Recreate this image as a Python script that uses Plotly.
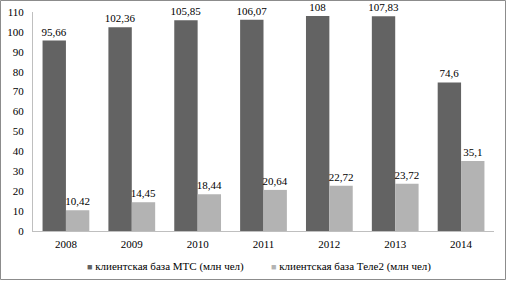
import plotly.graph_objects as go

years = ["2008", "2009", "2010", "2011", "2012", "2013", "2014"]
mts = [95.66, 102.36, 105.85, 106.07, 108, 107.83, 74.6]
tele2 = [10.42, 14.45, 18.44, 20.64, 22.72, 23.72, 35.1]
mts_labels = ["95,66", "102,36", "105,85", "106,07", "108", "107,83", "74,6"]
tele2_labels = ["10,42", "14,45", "18,44", "20,64", "22,72", "23,72", "35,1"]
y_ticks = list(range(0, 111, 10))
names = ["клиентская база МТС (млн чел)", "клиентская база Теле2 (млн чел)"]
colors = ["#636363", "#b3b3b3"]

W, H = 507, 281
L, R, T, B = 33, 13, 12, 50
pw, ph = W - L - R, H - T - B

FAM = "Liberation Serif"
font = dict(family=FAM, size=11, color="#000000")

fig = go.Figure()
for vals, labels, name, col in [(mts, mts_labels, names[0], colors[0]),
                                (tele2, tele2_labels, names[1], colors[1])]:
    fig.add_trace(go.Bar(x=years, y=vals, name=name, marker_color=col,
                         marker_line_width=0,
                         text=labels, textposition="outside", textfont=font,
                         constraintext="none", cliponaxis=False, hoverinfo="skip"))

def px_x(p):
    return (p - L) / pw

def px_y(p):
    return (H - B - p) / ph

legend_ann = []
for name, col, xp in [(names[0], colors[0], 85), (names[1], colors[1], 269)]:
    legend_ann.append(dict(
        xref="paper", yref="paper", x=px_x(xp), y=px_y(266),
        xanchor="left", yanchor="middle", showarrow=False,
        text=f"<span style='color:{col};font-size:9px'>■</span> {name}",
        font=dict(family=FAM, size=11, color="#000")))

fig.update_layout(
    width=W, height=H,
    margin=dict(l=L, r=R, t=T, b=B, autoexpand=False),
    paper_bgcolor="white", plot_bgcolor="white",
    font=font,
    barmode="group", bargap=0.29, bargroupgap=0,
    showlegend=False,
    xaxis=dict(showline=True, linecolor="#bfbfbf", linewidth=1, ticks="",
               tickfont=dict(family=FAM, size=11), automargin=False,
               ticklabelstandoff=3),
    yaxis=dict(range=[0, 110], tickvals=y_ticks, showgrid=False, showline=True,
               linecolor="#bfbfbf", linewidth=1, ticks="", zeroline=False,
               tickfont=dict(family=FAM, size=11), automargin=False,
               ticklabelstandoff=6),
    annotations=legend_ann,
    shapes=[dict(type="rect", xref="paper", yref="paper",
                 x0=px_x(0.5), x1=px_x(505.5), y0=px_y(279.5), y1=px_y(0.5),
                 line=dict(color="#8c8c8c", width=1))],
)
fig.write_html("out.html", config={"displayModeBar": False, "staticPlot": True},
               post_script="document.body.style.margin='0';document.body.style.overflow='hidden';")
